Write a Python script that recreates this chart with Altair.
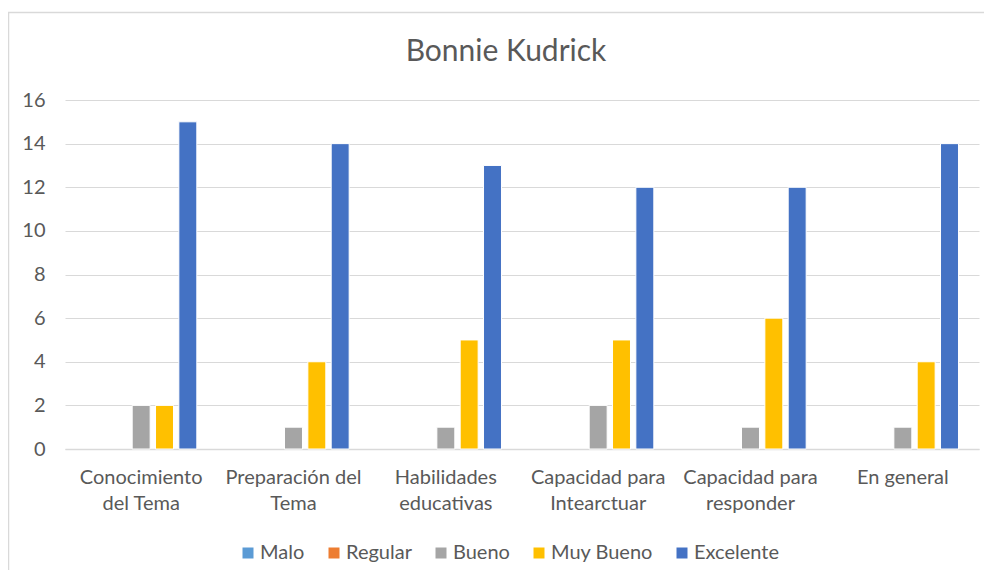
import altair as alt
import pandas as pd

# ---- data ----
categories = ["Conocimiento del Tema", "Preparación del Tema", "Habilidades educativas",
              "Capacidad para Intearctuar", "Capacidad para responder", "En general"]
category_lines = [["Conocimiento", "del Tema"], ["Preparación del", "Tema"], ["Habilidades", "educativas"],
                  ["Capacidad para", "Intearctuar"], ["Capacidad para", "responder"], ["En general"]]
series = ["Malo", "Regular", "Bueno", "Muy Bueno", "Excelente"]
malo = [0, 0, 0, 0, 0, 0]
regular = [0, 0, 0, 0, 0, 0]
bueno = [2, 1, 1, 2, 1, 1]
muy_bueno = [2, 4, 5, 5, 6, 4]
excelente = [15, 14, 13, 12, 12, 14]
colors = ["#5B9BD5", "#ED7D31", "#A5A5A5", "#FFC000", "#4472C4"]
y_ticks = [0, 2, 4, 6, 8, 10, 12, 14, 16]

values_by_series = [malo, regular, bueno, muy_bueno, excelente]
rows = []
for s, vals in zip(series, values_by_series):
    for c, v in zip(categories, vals):
        rows.append({"Categoria": c, "Serie": s, "Valor": v})
df = pd.DataFrame(rows)

# multi-line axis labels
expr = "datum.label"
for c, ln in reversed(list(zip(categories, category_lines))):
    arr = "[" + ",".join("'" + x + "'" for x in ln) + "]"
    expr = f"datum.label == '{c}' ? {arr} : ({expr})"

TEXT = "#595959"
GRID = "#D9D9D9"
FS = 20

bars = alt.Chart(df).mark_bar(stroke="white", strokeWidth=1).encode(
    x=alt.X("Categoria:N", sort=categories, title=None,
            scale=alt.Scale(paddingInner=0.234, paddingOuter=0.117),
            axis=alt.Axis(labelAngle=0, labelExpr=expr, labelFontSize=FS, labelColor=TEXT,
                          labelLineHeight=26, labelBaseline="alphabetic", labelPadding=34,
                          ticks=False, tickSize=0, domainColor=GRID, domainWidth=1.5,
                          grid=False)),
    xOffset=alt.XOffset("Serie:N", sort=series,
                        scale=alt.Scale(domain=series, paddingInner=0.23, paddingOuter=0.115)),
    y=alt.Y("Valor:Q", title=None,
            scale=alt.Scale(domain=[0, 16], nice=False),
            axis=alt.Axis(values=y_ticks, labelFontSize=FS, labelColor=TEXT, labelPadding=20,
                          ticks=False, tickSize=0, domain=False, gridColor=GRID, gridWidth=1)),
    color=alt.Color("Serie:N", sort=series,
                    scale=alt.Scale(domain=series, range=colors),
                    legend=alt.Legend(title=None, orient="none", direction="horizontal",
                                      legendX=173, legendY=443, symbolType="square",
                                      symbolSize=121, symbolStrokeWidth=0, labelFontSize=FS,
                                      labelColor=TEXT, columnPadding=19, labelOffset=2)),
    strokeOpacity=alt.condition(alt.datum.Valor > 0, alt.value(1), alt.value(0)),
    fillOpacity=alt.condition(alt.datum.Valor > 0, alt.value(1), alt.value(0)),
)

border = alt.Chart(alt.Data(values=[{"a": 1}])).mark_rect(
    fill=None, stroke=GRID, strokeWidth=1.5
).encode(x=alt.value(-56.5), x2=alt.value(1100), y=alt.value(-87.5), y2=alt.value(600))

chart = alt.layer(border, bars).properties(
    width=914, height=349,
    autosize=alt.AutoSizeParams(type="none"),
    padding={"left": 57, "top": 92, "right": 5, "bottom": 121},
    title=alt.TitleParams("Bonnie Kudrick", fontSize=30, fontWeight="normal", color=TEXT,
                          anchor="middle", baseline="alphabetic", offset=38, dy=117, dx=-16),
).configure(font="Lato").configure_view(stroke=None)

chart.save("out.html", embed_options={"renderer": "svg", "actions": False})
